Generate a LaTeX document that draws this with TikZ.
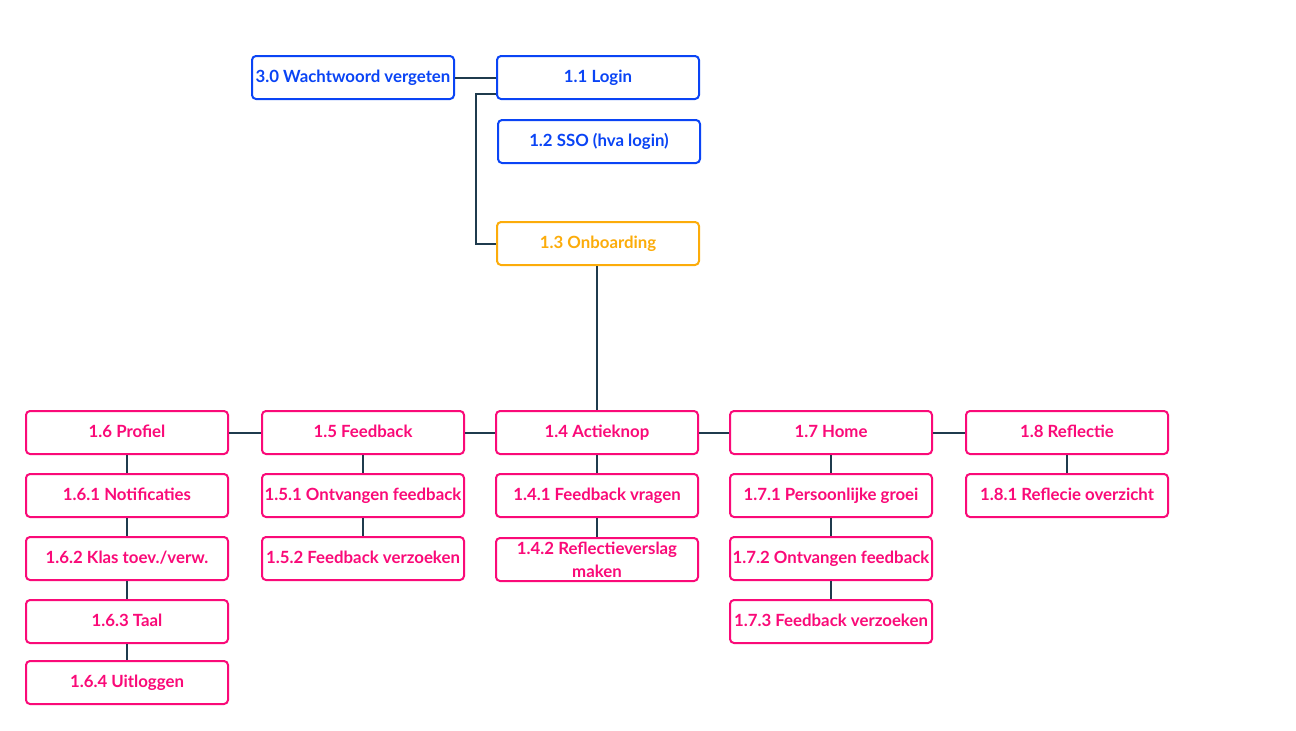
\documentclass[tikz,border=0pt]{standalone}
\usepackage{fontspec}
\setmainfont{Lato}
\definecolor{cblue}{HTML}{0A44F5}
\definecolor{cpink}{HTML}{FA0A78}
\definecolor{corange}{HTML}{FCAC0A}
\definecolor{cline}{HTML}{1F3B4D}
\tikzset{
  box/.style={draw, line width=2pt, rounded corners=4pt, minimum width=202pt, minimum height=43pt,
    inner sep=0pt, align=center, font=\fontsize{16.8}{23}\selectfont\bfseries, fill=white,
    text height=0.95em, text depth=0.05em},
  bluebox/.style={box, draw=cblue, text=cblue},
  pinkbox/.style={box, draw=cpink, text=cpink},
  orangebox/.style={box, draw=corange, text=corange},
  conn/.style={draw=cline, line width=2pt},
}
\begin{document}
\begin{tikzpicture}[x=1pt,y=-1pt]
\useasboundingbox (0,0) rectangle (1296,731);
% top
\node[bluebox] (w) at (353,77.5) {3.0 Wachtwoord vergeten};
\node[bluebox] (l) at (598,77.5) {1.1 Login};
\node[bluebox] (s) at (599,141.5) {1.2 SSO (hva login)};
\node[orangebox] (o) at (598,243.5) {1.3 Onboarding};
% main row
\node[pinkbox] (p6) at (127,432.5) {1.6 Profiel};
\node[pinkbox] (p5) at (363,432.5) {1.5 Feedback};
\node[pinkbox] (p4) at (597,432.5) {1.4 Actieknop};
\node[pinkbox] (p7) at (831,432.5) {1.7 Home};
\node[pinkbox] (p8) at (1067,432.5) {1.8 Reflectie};
% column 1.6
\node[pinkbox] (p61) at (127,495.5) {1.6.1 Notificaties};
\node[pinkbox] (p62) at (127,558.5) {1.6.2 Klas toev./verw.};
\node[pinkbox] (p63) at (127,621.5) {1.6.3 Taal};
\node[pinkbox] (p64) at (127,682.5) {1.6.4 Uitloggen};
% column 1.5
\node[pinkbox] (p51) at (363,495.5) {1.5.1 Ontvangen feedback};
\node[pinkbox] (p52) at (363,558.5) {1.5.2 Feedback verzoeken};
% column 1.4
\node[pinkbox] (p41) at (597,495.5) {1.4.1 Feedback vragen};
\node[pinkbox, text height=, text depth=] (p42) at (597,559.5) {1.4.2 Reflectieverslag\\maken};
% column 1.7
\node[pinkbox] (p71) at (831,495.5) {1.7.1 Persoonlijke groei};
\node[pinkbox] (p72) at (831,558.5) {1.7.2 Ontvangen feedback};
\node[pinkbox] (p73) at (831,621.5) {1.7.3 Feedback verzoeken};
% column 1.8
\node[pinkbox] (p81) at (1067,495.5) {1.8.1 Reflecie overzicht};
% connectors
\coordinate (lj) at (476,94);
\draw[conn] (l.west |- lj) -- (lj) -- (lj |- o.west) -- (o.west);
\draw[conn] (w.east) -- (l.west);
\draw[conn] (p4.north |- o.south) -- (p4.north);
\draw[conn] (p6.east) -- (p5.west);
\draw[conn] (p5.east) -- (p4.west);
\draw[conn] (p4.east) -- (p7.west);
\draw[conn] (p7.east) -- (p8.west);
\draw[conn] (p6.south) -- (p61.north);
\draw[conn] (p61.south) -- (p62.north);
\draw[conn] (p62.south) -- (p63.north);
\draw[conn] (p63.south) -- (p64.north);
\draw[conn] (p5.south) -- (p51.north);
\draw[conn] (p51.south) -- (p52.north);
\draw[conn] (p4.south) -- (p41.north);
\draw[conn] (p41.south) -- (p42.north);
\draw[conn] (p7.south) -- (p71.north);
\draw[conn] (p71.south) -- (p72.north);
\draw[conn] (p72.south) -- (p73.north);
\draw[conn] (p8.south) -- (p81.north);
\end{tikzpicture}
\end{document}
